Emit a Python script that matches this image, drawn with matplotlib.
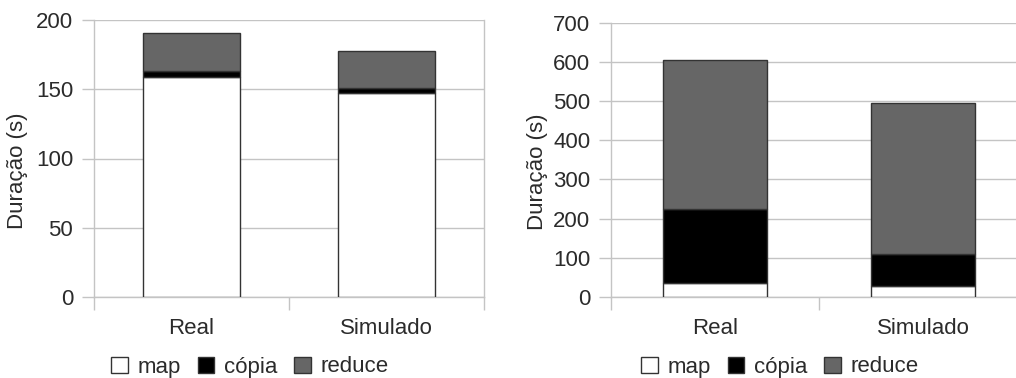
import matplotlib
matplotlib.use("Agg")
import matplotlib.pyplot as plt
from matplotlib.patches import Patch

plt.rcParams['font.family'] = ['Liberation Sans', 'DejaVu Sans']

categories = ["Real", "Simulado"]
phases = ["map", "cópia", "reduce"]
colors = ["#ffffff", "#000000", "#666666"]

# left chart
left_map = [159, 147]
left_copia = [4.5, 4]
left_reduce = [27, 26.5]

# right chart
right_map = [35, 29]
right_copia = [189.5, 81.5]
right_reduce = [381, 385]

txt = "#2b2b2b"
grid = "#c4c4c4"
fs = 16

fig = plt.figure(figsize=(10.16, 3.78), dpi=100)
ax1 = fig.add_axes([94/1016, 81/378, 390/1016, 277/378])
ax2 = fig.add_axes([611.3/1016, 81/378, 415.7/1016, 274.3/378])


def draw(ax, series, ymax, step, label_x):
    x = list(range(len(categories)))
    bottom = [0] * len(categories)
    for vals, c in zip(series, colors):
        ax.bar(x, vals, 0.5, bottom=bottom, color=c, edgecolor="#333333", linewidth=1, zorder=3)
        bottom = [b + v for b, v in zip(bottom, vals)]
    ax.set_xlim(-0.5, len(categories) - 0.5)
    ax.set_ylim(0, ymax)
    ax.set_yticks(range(0, ymax + 1, step))
    ax.yaxis.grid(True, color=grid, linewidth=1, zorder=0)
    ax.set_xticks(x)
    ax.set_xticklabels(categories)
    ax.set_xticks([i - 0.5 for i in range(len(categories) + 1)], minor=True)
    ax.tick_params(axis="x", which="major", length=0, pad=15, labelsize=fs, labelcolor=txt)
    ax.tick_params(axis="x", which="minor", length=9, color=grid, width=1)
    ax.tick_params(axis="y", length=9, color=grid, width=1, pad=6, labelsize=fs, labelcolor=txt)
    ax.spines["top"].set_visible(False)
    for s in ["left", "bottom", "right"]:
        ax.spines[s].set_color(grid)
        ax.spines[s].set_linewidth(1)
    ax.set_ylabel("Duração (s)", fontsize=fs, color=txt)
    ax.yaxis.set_label_coords(label_x, 0.455)


draw(ax1, [left_map, left_copia, left_reduce], 200, 50, -0.168)
draw(ax2, [right_map, right_copia, right_reduce], 700, 100, -0.152)

handles = [Patch(facecolor=c, edgecolor="#333333", linewidth=1) for c in colors]
for cx in [250 / 1016, 780 / 1016]:
    fig.legend(handles, phases, loc="center", bbox_to_anchor=(cx, 11 / 378), ncol=3,
               frameon=False, fontsize=fs, labelcolor=txt, handlelength=0.75, handleheight=0.75,
               handletextpad=0.45, columnspacing=0.75, borderpad=0)

fig.savefig("out.png", dpi=100)
